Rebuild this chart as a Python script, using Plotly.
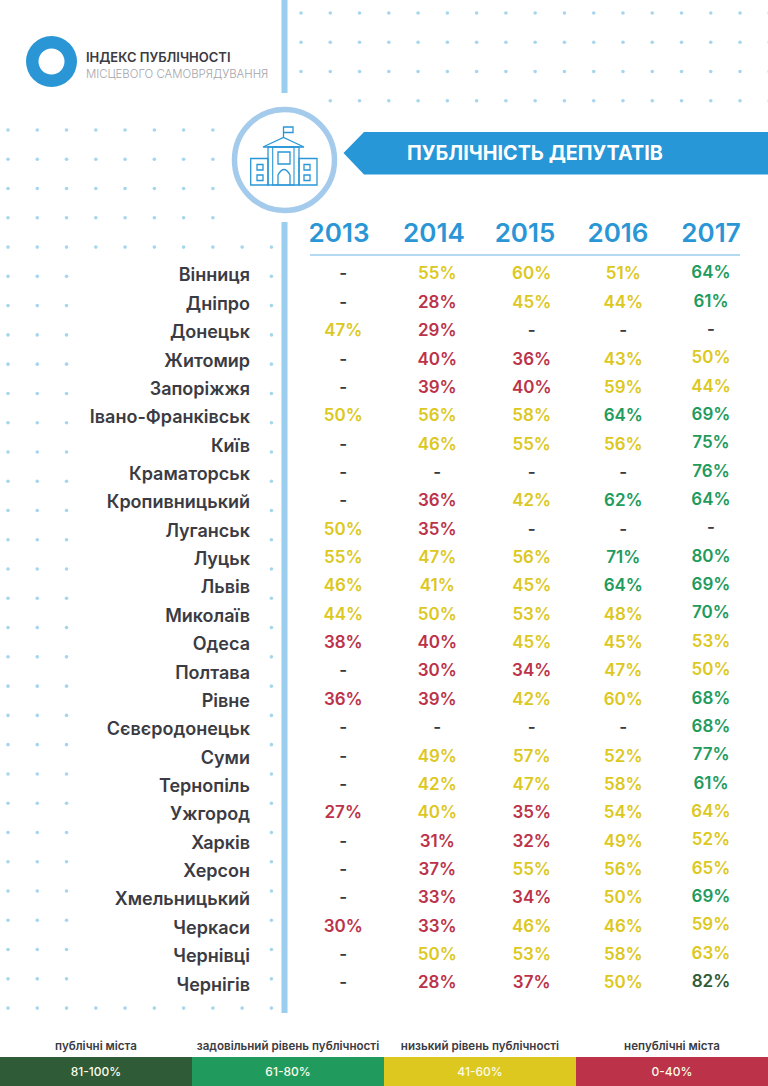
import plotly.graph_objects as go

W, H = 768, 1086

# table data (None = no score, drawn as a dash)
cities = ["Вінниця", "Дніпро", "Донецьк", "Житомир", "Запоріжжя", "Івано-Франківськ", "Київ",
          "Краматорськ", "Кропивницький", "Луганськ", "Луцьк", "Львів", "Миколаїв", "Одеса",
          "Полтава", "Рівне", "Сєвєродонецьк", "Суми", "Тернопіль", "Ужгород", "Харків",
          "Херсон", "Хмельницький", "Черкаси", "Чернівці", "Чернігів"]
years = [2013, 2014, 2015, 2016, 2017]
v2013 = [None, None, 47, None, None, 50, None, None, None, 50, 55, 46, 44, 38, None, 36, None,
         None, None, 27, None, None, None, 30, None, None]
v2014 = [55, 28, 29, 40, 39, 56, 46, None, 36, 35, 47, 41, 50, 40, 30, 39, None, 49, 42, 40, 31,
         37, 33, 33, 50, 28]
v2015 = [60, 45, None, 36, 40, 58, 55, None, 42, None, 56, 45, 53, 45, 34, 42, None, 57, 47, 35,
         32, 55, 34, 46, 53, 37]
v2016 = [51, 44, None, 43, 59, 64, 56, None, 62, None, 71, 64, 48, 45, 47, 60, None, 52, 58, 54,
         49, 56, 50, 46, 58, 50]
v2017 = [64, 61, None, 50, 44, 69, 75, 76, 64, None, 80, 69, 70, 53, 50, 68, 68, 77, 61, 64, 52,
         65, 69, 59, 63, 82]
values = [v2013, v2014, v2015, v2016, v2017]

# cells the original colours yellow even though the score is outside that band
yellow_cells = {(2014, "Ужгород"), (2017, "Ужгород"), (2017, "Херсон"), (2017, "Чернівці")}

band_labels = ["публічні міста", "задовільний рівень публічності", "низький рівень публічності",
               "непублічні міста"]
band_ranges = ["81-100%", "61-80%", "41-60%", "0-40%"]
band_colors = ["#2f5b37", "#219b5d", "#dcc81e", "#bb3249"]

BLUE = "#2a96d6"
PALE = "#9bcdee"
DARK = "#3b3b43"
FONT = "Inter"

# small per-column shifts (in years) so the text sits where the original has it
col_nudge = [0.046, 0.057, 0.072, 0.057, 0.0]
head_nudge = [0.0, 0.02, 0.0, 0.0, 0.0]


def color_for(v, yr, city):
    if v is None:
        return DARK
    if (yr, city) in yellow_cells:
        return band_colors[2]
    if v > 80:
        return band_colors[0]
    if v > 60:
        return band_colors[1]
    if v > 40:
        return band_colors[2]
    return band_colors[3]


fig = go.Figure()

# table, one trace per year
for i, (yr, col) in enumerate(zip(years, values)):
    rows = list(range(len(cities)))
    fig.add_trace(go.Scatter(
        x=[yr + col_nudge[i]] * len(cities),
        y=[r - (0.045 if yr == 2017 else 0) for r in rows],
        mode="text",
        text=["-" if v is None else f"{v}%" for v in col],
        textfont=dict(family=FONT, size=17, weight=600,
                      color=[color_for(v, yr, c) for v, c in zip(col, cities)]),
        textposition="middle center",
        showlegend=False, hoverinfo="skip",
        xaxis="x", yaxis="y",
    ))

# legend strip at the bottom
fig.add_trace(go.Bar(
    x=band_labels, y=[1, 1, 1, 1],
    marker=dict(color=band_colors, line_width=0),
    text=band_ranges, textposition="inside", insidetextanchor="middle",
    textangle=0,
    textfont=dict(family=FONT, size=12, weight=500, color="#fdfbe8"),
    showlegend=False, hoverinfo="skip",
    xaxis="x2", yaxis="y2",
))

# background dots, pixel axes
dot_step = 29.27
dx, dy = [], []
for r in range(31):
    y = 130 + r * dot_step
    for c in range(10):
        x = 8 + c * dot_step
        if r < 4 and c > 7:
            continue
        if r > 4 and 2 < c < 9 and r != 30:
            continue
        dx.append(x)
        dy.append(y)
for r in range(4):
    for c in range(17):
        if r == 3 and c == 0:
            continue
        dx.append(301 + c * dot_step)
        dy.append(13 + r * dot_step)
fig.add_trace(go.Scatter(x=dx, y=dy, mode="markers",
                         marker=dict(size=3.6, color="#a6d6ee"),
                         showlegend=False, hoverinfo="skip", xaxis="x3", yaxis="y3"))

shapes = []


def rect(x0, y0, x1, y1, color):
    shapes.append(dict(type="rect", xref="x3", yref="y3", x0=x0, y0=y0, x1=x1, y1=y1,
                       fillcolor=color, line=dict(width=0)))


def outline(x0, y0, x1, y1, w=1.3):
    shapes.append(dict(type="rect", xref="x3", yref="y3", x0=x0, y0=y0, x1=x1, y1=y1,
                       line=dict(color=BLUE, width=w)))


def path(d, w=1.3):
    shapes.append(dict(type="path", xref="x3", yref="y3", path=d, line=dict(color=BLUE, width=w)))


# bars and header rule
rect(281.5, 0, 287.5, 93, PALE)
rect(281.5, 222, 287.5, 1013, PALE)
shapes.append(dict(type="line", xref="x3", yref="y3", x0=310, x1=740, y0=255, y1=255,
                   line=dict(color=PALE, width=1.3)))

# logo ring
shapes.append(dict(type="circle", xref="x3", yref="y3", x0=26, y0=36, x1=77, y1=87,
                   fillcolor=BLUE, line=dict(width=0)))
shapes.append(dict(type="circle", xref="x3", yref="y3", x0=38.5, y0=48.5, x1=64.5, y1=74.5,
                   fillcolor="white", line=dict(width=0)))

# ribbon
shapes.append(dict(type="path", xref="x3", yref="y3",
                   path="M 343.5 153 L 364 132 L 768 132 L 768 174.5 L 364 174.5 Z",
                   fillcolor="#2797d7", line=dict(width=0)))

# round badge with the building
shapes.append(dict(type="circle", xref="x3", yref="y3", x0=234.5, y0=109.5, x1=334.5, y1=210.5,
                   fillcolor="white", line=dict(color="#a4cbec", width=5.5)))
path("M 283.5 137.5 L 283.5 127 L 293 127 L 293 132.5 L 283.5 132.5")
path("M 263 147 L 283.5 137.5 L 304 147 Z")
outline(268, 147, 299, 185)
outline(272.7, 147, 294, 185, 1.1)
outline(278, 152, 290, 164)
path("M 278 185 L 278 175 Q 284 164 290 175 L 290 185")
outline(250.7, 158.5, 268, 185)
outline(299, 158.5, 317, 185)
outline(257, 164.5, 263, 170)
outline(257, 175, 263, 180.5)
outline(304, 164.5, 310, 170)
outline(304, 175, 310, 180.5)

annotations = [
    dict(x=84, y=57, text="ІНДЕКС ПУБЛІЧНОСТІ", xanchor="left",
         font=dict(family=FONT, size=13, weight=600, color=DARK)),
    dict(x=84, y=74, text="МІСЦЕВОГО САМОВРЯДУВАННЯ", xanchor="left",
         font=dict(family=FONT, size=11.4, weight=300, color="#a4a4aa")),
    dict(x=535, y=153, text="ПУБЛІЧНІСТЬ ДЕПУТАТІВ", xanchor="center",
         font=dict(family=FONT, size=19.8, weight=700, color="white")),
]
for a in annotations:
    a.update(xref="x3", yref="y3", showarrow=False, yanchor="middle")

# x axis maps years to pixels: 2013 -> 339, one year -> 93 px, axis starts at 282 px
x_left = 2013 - (339 - 282) / 93
x_right = 2013 + (768 - 339) / 93

fig.update_layout(
    width=W, height=H,
    margin=dict(l=0, r=0, t=0, b=0),
    paper_bgcolor="white", plot_bgcolor="rgba(0,0,0,0)",
    barmode="overlay", bargap=0,
    shapes=shapes, annotations=annotations,
    xaxis=dict(domain=[282 / W, 1], range=[x_left, x_right], side="top", anchor="y",
               tickvals=[y + n for y, n in zip(years, head_nudge)], ticktext=[str(y) for y in years],
               tickfont=dict(family=FONT, size=26, weight=600, color=BLUE),
               showgrid=False, zeroline=False, showline=False, ticks="", ticklabelstandoff=13),
    yaxis=dict(domain=[1 - 998.4 / H, 1 - 261 / H], range=[25.5, -0.5], anchor="x",
               tickvals=list(range(len(cities))), ticktext=cities,
               tickfont=dict(family=FONT, size=18, weight=600, color=DARK),
               showgrid=False, zeroline=False, showline=False, ticks="", ticklabelstandoff=31),
    xaxis2=dict(domain=[0, 1], anchor="y2", side="top", type="category",
                tickfont=dict(family=FONT, size=11.6, weight=600, color=DARK),
                showgrid=False, zeroline=False, showline=False, ticks="", ticklabelstandoff=3),
    yaxis2=dict(domain=[0, 29.5 / H], range=[0, 1], anchor="x2", visible=False, fixedrange=True),
    xaxis3=dict(domain=[0, 1], range=[0, W], anchor="y3", visible=False),
    yaxis3=dict(domain=[0, 1], range=[H, 0], anchor="x3", visible=False),
)

fig.write_html("out.html", config={"displayModeBar": False},
               post_script="document.body.style.margin='0';")
